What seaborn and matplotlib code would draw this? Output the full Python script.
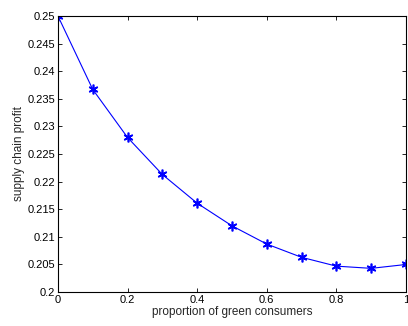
import matplotlib
matplotlib.use("Agg")
import matplotlib.pyplot as plt
import seaborn as sns
import pandas as pd

x_vals = [0.0, 0.1, 0.2, 0.3, 0.4, 0.5, 0.6, 0.7, 0.8, 0.9, 1.0]
profit = [0.2500, 0.2367, 0.2280, 0.2213, 0.2161, 0.2120, 0.2087, 0.2063, 0.2047, 0.2043, 0.2050]
x_ticks = [0, 0.2, 0.4, 0.6, 0.8, 1]
x_ticklabels = ["0", "0.2", "0.4", "0.6", "0.8", "1"]
y_ticks = [0.2, 0.205, 0.21, 0.215, 0.22, 0.225, 0.23, 0.235, 0.24, 0.245, 0.25]
y_ticklabels = ["0.2", "0.205", "0.21", "0.215", "0.22", "0.225", "0.23", "0.235", "0.24", "0.245", "0.25"]

sns.set_theme(style="white")
plt.rcParams['font.family'] = ['Liberation Sans', 'DejaVu Sans']

df = pd.DataFrame({"x": x_vals, "y": profit})
fig = plt.figure(figsize=(4.08, 3.26), dpi=100)
ax = fig.add_axes([0.142, 0.104, 0.853, 0.847])
sns.lineplot(data=df, x="x", y="y", ax=ax, color="blue", marker=(6, 2, 0), markersize=7,
             markeredgecolor="blue", markeredgewidth=1.2, linewidth=0.8)
ax.set_xlim(0, 1)
ax.set_ylim(0.2, 0.25)
ax.set_xticks(x_ticks)
ax.set_xticklabels(x_ticklabels)
ax.set_yticks(y_ticks)
ax.set_yticklabels(y_ticklabels)
ax.tick_params(direction="in", length=3, width=0.6, labelsize=8, colors="black",
               top=True, right=True, bottom=True, left=True, pad=2)
for s in ax.spines.values():
    s.set_visible(True)
    s.set_color("black")
    s.set_linewidth(0.8)
ax.set_xlabel("proportion of green consumers", fontsize=8.5, labelpad=1)
ax.set_ylabel("supply chain profit", fontsize=8.5, labelpad=2)
fig.savefig("out.png", dpi=100)
